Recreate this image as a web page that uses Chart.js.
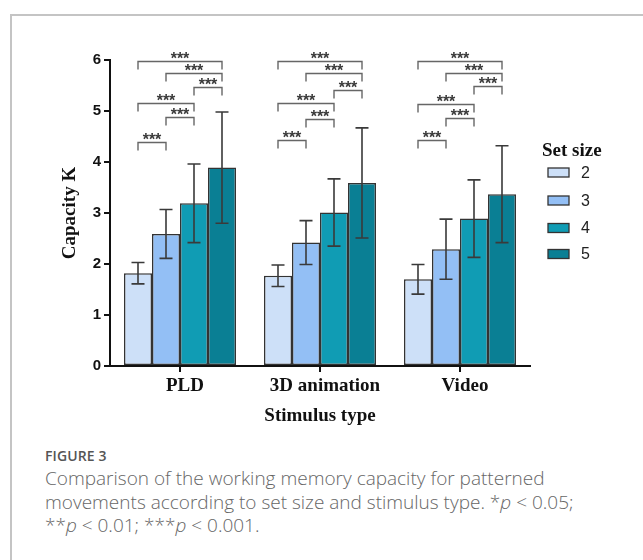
<!DOCTYPE html>
<html><head><meta charset="utf-8">
<script src="https://cdn.jsdelivr.net/npm/chart.js@4"></script>
<style>
html,body{margin:0;padding:0;background:#fff;width:643px;height:560px;overflow:hidden;}
#frame{position:absolute;left:10px;top:14px;width:700px;height:600px;border-left:2px solid #c4c4c4;border-top:2px solid #c4c4c4;}
#wrap{position:absolute;left:0;top:0;width:643px;height:440px;}
#fig{position:absolute;left:45px;top:446px;font:600 14px "Open Sans";color:#555;letter-spacing:0.1px;white-space:nowrap;}
#cap{position:absolute;left:45px;top:467px;font:300 19px/23.7px "Open Sans";color:#666;white-space:nowrap;}
</style></head>
<body>
<div id="frame"></div>
<div id="wrap"><canvas id="c" width="643" height="440"></canvas></div>
<div id="fig">FIGURE 3</div>
<div id="cap">Comparison of the working memory capacity for patterned<br>movements according to set size and stimulus type. *<i>p</i> &lt; 0.05;<br>**<i>p</i> &lt; 0.01; ***<i>p</i> &lt; 0.001.</div>
<script>
const categories = ['PLD', '3D animation', 'Video'];
const setSizes = ['2', '3', '4', '5'];
const means2 = [1.82, 1.77, 1.70];
const means3 = [2.59, 2.42, 2.29];
const means4 = [3.19, 3.01, 2.89];
const means5 = [3.89, 3.59, 3.37];
const sd2 = [0.21, 0.21, 0.29];
const sd3 = [0.48, 0.43, 0.59];
const sd4 = [0.77, 0.66, 0.76];
const sd5 = [1.09, 1.08, 0.95];
const yTicks = [0, 1, 2, 3, 4, 5, 6];
// significance brackets: pairs of set-size indices, and bracket heights per stimulus type
const bracketPairs = [[0, 1], [1, 2], [0, 2], [2, 3], [1, 3], [0, 3]];
const bracketHeightsPLD = [4.40, 4.88, 5.15, 5.48, 5.74, 5.99];
const bracketHeights3D = [4.44, 4.84, 5.15, 5.41, 5.74, 5.99];
const bracketHeightsVideo = [4.44, 4.86, 5.13, 5.49, 5.74, 5.99];
const bracketLabel = '***';

const allMeans = [means2, means3, means4, means5];
const allSd = [sd2, sd3, sd4, sd5];
const allBrackets = [bracketHeightsPLD, bracketHeights3D, bracketHeightsVideo];
const colors = ['#cde0f8', '#93bff5', '#109cb4', '#0a7f94'];

const serifBold = '"Liberation Serif", "Times New Roman", serif';
const sans = '"Liberation Sans", Arial, sans-serif';

const overlay = {
  id: 'overlay',
  afterDatasetsDraw(chart) {
    const ctx = chart.ctx;
    const y = chart.scales.y;
    ctx.save();
    // error bars
    ctx.strokeStyle = '#3a3a3a';
    ctx.lineWidth = 1.6;
    allMeans.forEach((m, i) => {
      const meta = chart.getDatasetMeta(i);
      meta.data.forEach((el, j) => {
        const x = el.x;
        const yt = y.getPixelForValue(m[j] + allSd[i][j]);
        const yb = y.getPixelForValue(m[j] - allSd[i][j]);
        ctx.beginPath();
        ctx.moveTo(x, yb); ctx.lineTo(x, yt);
        ctx.moveTo(x - 6.5, yt); ctx.lineTo(x + 6.5, yt);
        ctx.moveTo(x - 6.5, yb); ctx.lineTo(x + 6.5, yb);
        ctx.stroke();
      });
    });
    // significance brackets
    ctx.strokeStyle = '#666';
    ctx.lineWidth = 1.4;
    ctx.fillStyle = '#3a3a3a';
    ctx.font = 'bold 16px ' + sans;
    ctx.textAlign = 'center';
    ctx.textBaseline = 'alphabetic';
    categories.forEach((c, j) => {
      bracketPairs.forEach((p, k) => {
        const x1 = chart.getDatasetMeta(p[0]).data[j].x;
        const x2 = chart.getDatasetMeta(p[1]).data[j].x;
        const yy = Math.round(y.getPixelForValue(allBrackets[j][k])) + 0.5;
        ctx.beginPath();
        ctx.moveTo(x1, yy + 8); ctx.lineTo(x1, yy); ctx.lineTo(x2, yy); ctx.lineTo(x2, yy + 8);
        ctx.stroke();
        ctx.fillText(bracketLabel, (x1 + x2) / 2, yy + 2.5);
      });
    });
    ctx.restore();
  },
  afterDraw(chart) {
    const ctx = chart.ctx;
    ctx.save();
    ctx.fillStyle = '#111';
    ctx.font = 'bold 19px ' + serifBold;
    ctx.textAlign = 'left';
    ctx.textBaseline = 'alphabetic';
    ctx.fillText('Set size', 542, 156);
    const rows = [172.5, 200.5, 228, 254];
    setSizes.forEach((s, i) => {
      ctx.fillStyle = colors[i];
      ctx.fillRect(548, rows[i] - 4.5, 21, 9);
      ctx.strokeStyle = '#333';
      ctx.lineWidth = 1.3;
      ctx.strokeRect(548, rows[i] - 4.5, 21, 9);
      ctx.fillStyle = '#222';
      ctx.font = '16px ' + sans;
      ctx.textBaseline = 'middle';
      ctx.fillText(s, 581, rows[i] + 1);
    });
    ctx.restore();
  }
};

new Chart(document.getElementById('c'), {
  type: 'bar',
  data: {
    labels: categories,
    datasets: setSizes.map((s, i) => ({
      label: s,
      data: allMeans[i],
      backgroundColor: colors[i],
      borderColor: '#333',
      borderWidth: 1.5,
      borderSkipped: false,
      barPercentage: 1,
      categoryPercentage: 0.8
    }))
  },
  options: {
    responsive: false,
    animation: false,
    devicePixelRatio: 1,
    layout: { padding: { left: 55, right: 113, top: 60, bottom: 9 } },
    plugins: { legend: { display: false }, tooltip: { enabled: false } },
    scales: {
      x: {
        afterFit: s => { s.height = 65; },
        grid: { offset: false, drawOnChartArea: false, drawTicks: true, tickLength: 6, color: '#111', lineWidth: 2 },
        border: { color: '#111', width: 2 },
        ticks: { color: '#111', padding: 3, labelOffset: 5, font: { family: serifBold, size: 19, weight: 'bold' } },
        title: { display: true, text: 'Stimulus type', color: '#111', padding: { top: 0, bottom: 4 }, font: { family: serifBold, size: 19, weight: 'bold' } }
      },
      y: {
        min: 0, max: 6,
        afterFit: s => { s.width = 55; },
        afterBuildTicks: s => { s.ticks = yTicks.map(v => ({ value: v })); },
        grid: { drawOnChartArea: false, drawTicks: true, tickLength: 6, color: '#111', lineWidth: 2 },
        border: { color: '#111', width: 2 },
        ticks: { color: '#111', padding: 3, font: { family: sans, size: 15, weight: 'bold' } },
        title: { display: true, text: 'Capacity K', color: '#111', padding: { top: 4, bottom: 0 }, font: { family: serifBold, size: 19, weight: 'bold' } }
      }
    }
  },
  plugins: [overlay]
});
</script>
</body></html>
